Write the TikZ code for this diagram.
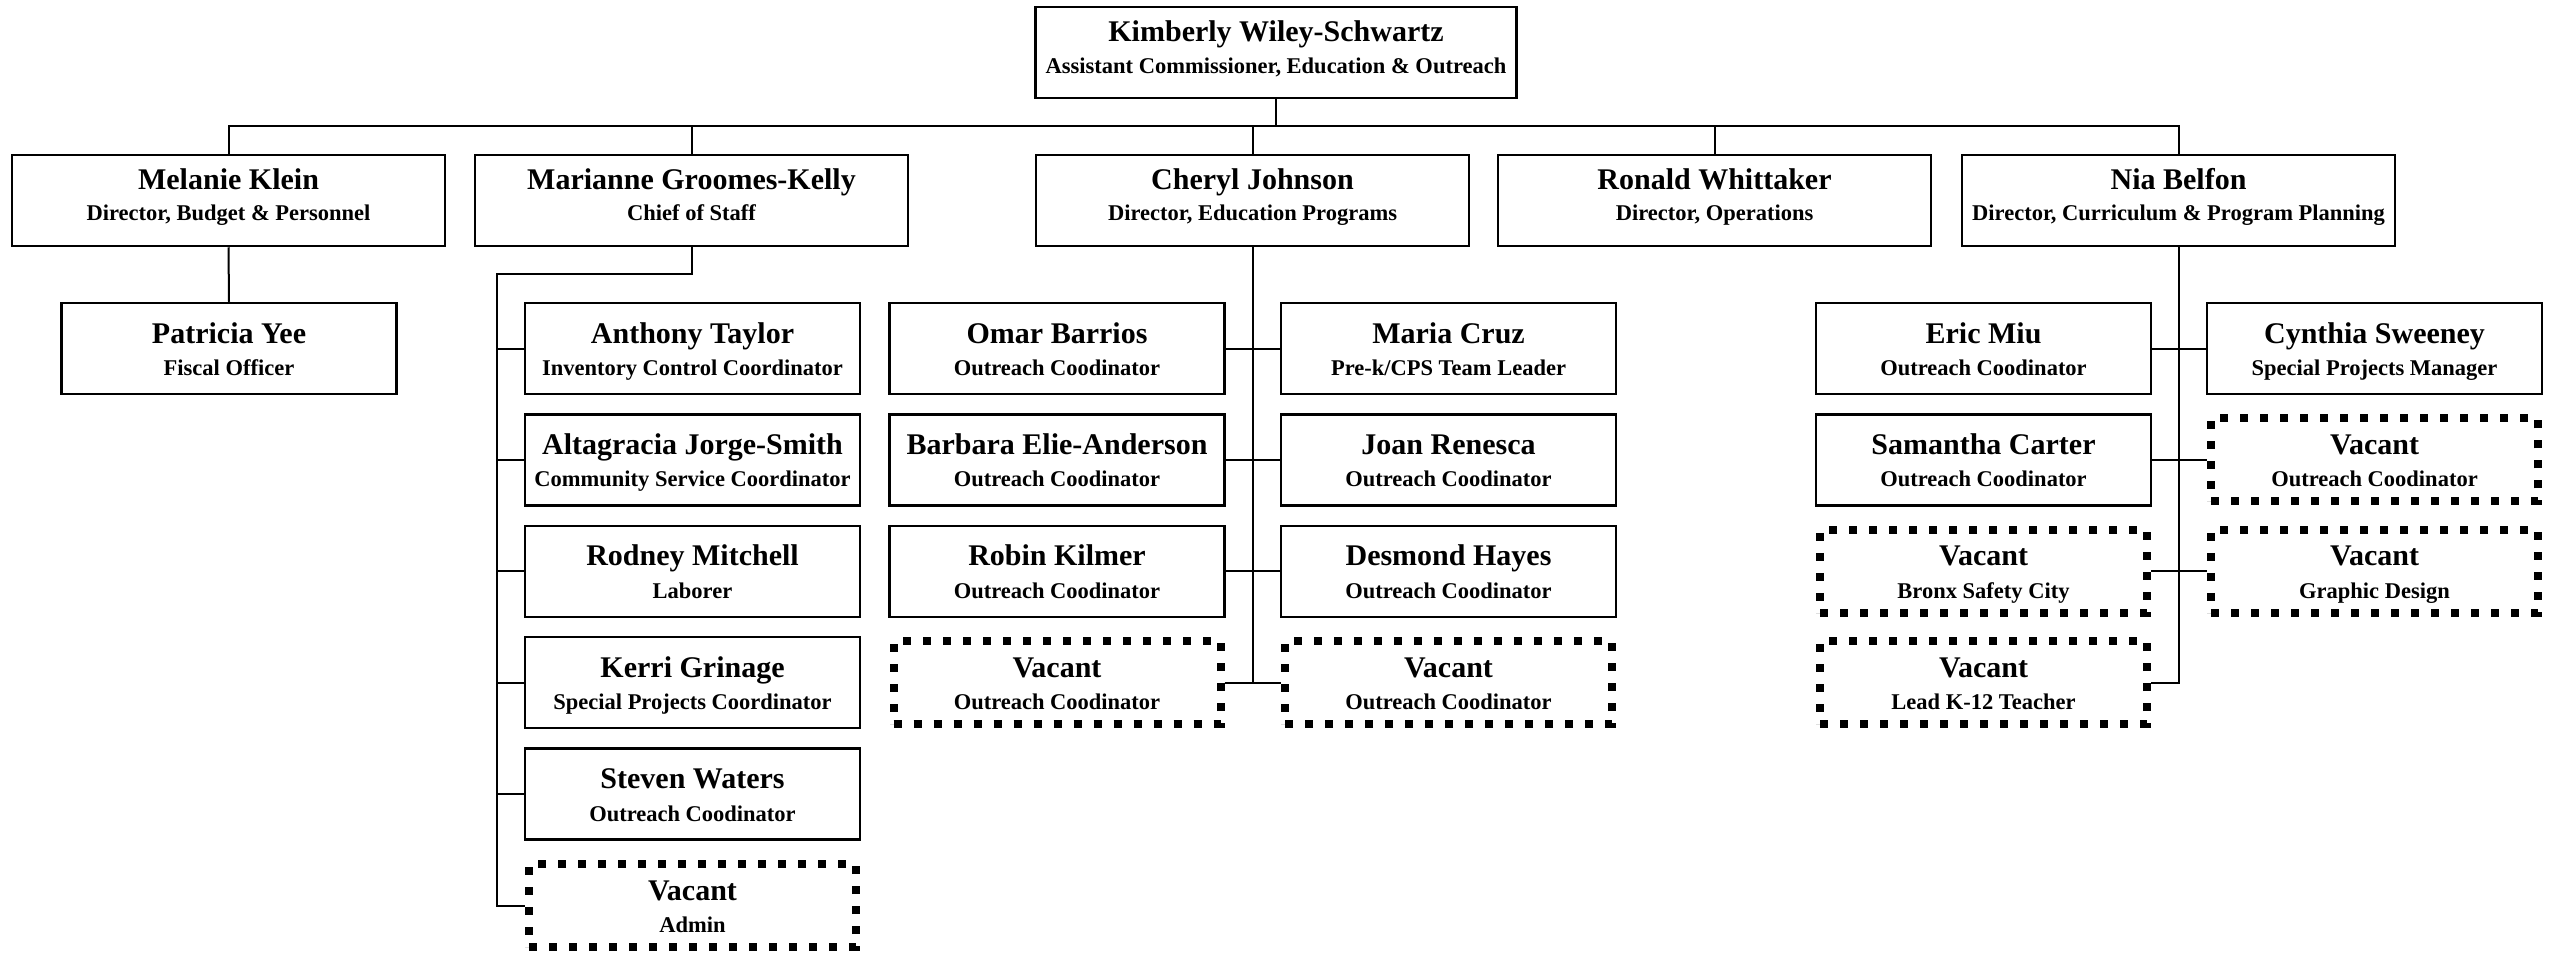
\documentclass[tikz,border=0pt]{standalone}
\usepackage{fontspec}
\setmainfont{Liberation Serif}
\tikzset{
  conn/.style={line width=2pt},
  pbox/.style={draw, line width=2.5pt, minimum width=335pt, minimum height=91pt, inner sep=0pt},
  dbox/.style={draw, line width=8pt, dash pattern=on 8pt off 12pt, minimum width=327pt, minimum height=83pt, inner sep=0pt},
  lbox/.style={pbox, minimum width=433pt},
  tbox/.style={pbox, minimum width=481pt},
  nametext/.style={anchor=base, inner sep=0pt, font=\bfseries\fontsize{30}{36}\selectfont},
  titletext/.style={anchor=base, inner sep=0pt, font=\bfseries\fontsize{22.5}{27}\selectfont},
}
\newcommand\orgbox[8]{%
  \node[#2] (#1) at (#3,#4) {};
  \node[nametext] (#1n) at ({#3},{#4+(#5)}) {#7};
  \node[titletext] (#1t) at ({#3},{#4+(#6)}) {#8};
}
\begin{document}
\begin{tikzpicture}[x=1pt,y=-1pt]
\useasboundingbox (0,0) rectangle (2553,956);
\fill[white] (0,0) rectangle (2553,956);
% top
\orgbox{kws}{tbox}{1276}{52.5}{-11.5}{20.5}{Kimberly Wiley-Schwartz}{Assistant Commissioner, Education \& Outreach}
% level 1
\orgbox{mk}{lbox}{228.5}{200.5}{-11.5}{19.5}{Melanie Klein}{Director, Budget \& Personnel}
\orgbox{mg}{lbox}{691.5}{200.5}{-11.5}{19.5}{Marianne Groomes-Kelly}{Chief of Staff}
\orgbox{cj}{lbox}{1252.5}{200.5}{-11.5}{19.5}{Cheryl Johnson}{Director, Education Programs}
\orgbox{rw}{lbox}{1714.5}{200.5}{-11.5}{19.5}{Ronald Whittaker}{Director, Operations}
\orgbox{nb}{lbox}{2178.5}{200.5}{-11.5}{19.5}{Nia Belfon}{Director, Curriculum \& Program Planning}
% Melanie
\orgbox{py}{pbox}{229}{348.5}{-5.5}{27}{Patricia Yee}{Fiscal Officer}
% Marianne
\orgbox{at}{pbox}{692.5}{348.5}{-5.5}{27}{Anthony Taylor}{Inventory Control Coordinator}
\orgbox{ajs}{pbox}{692.5}{459.9}{-5.5}{27}{Altagracia Jorge-Smith}{Community Service Coordinator}
\orgbox{rm}{pbox}{692.5}{571.3}{-5.5}{27}{Rodney Mitchell}{Laborer}
\orgbox{kg}{pbox}{692.5}{682.7}{-5.5}{27}{Kerri Grinage}{Special Projects Coordinator}
\orgbox{sw}{pbox}{692.5}{794.1}{-5.5}{27}{Steven Waters}{Outreach Coodinator}
\orgbox{va}{dbox}{692.5}{905.5}{-5.5}{27}{Vacant}{Admin}
% Cheryl
\orgbox{ob}{pbox}{1057}{348.5}{-5.5}{27}{Omar Barrios}{Outreach Coodinator}
\orgbox{mc}{pbox}{1448.5}{348.5}{-5.5}{27}{Maria Cruz}{Pre-k/CPS Team Leader}
\orgbox{bea}{pbox}{1057}{459.9}{-5.5}{27}{Barbara Elie-Anderson}{Outreach Coodinator}
\orgbox{jr}{pbox}{1448.5}{459.9}{-5.5}{27}{Joan Renesca}{Outreach Coodinator}
\orgbox{rk}{pbox}{1057}{571.3}{-5.5}{27}{Robin Kilmer}{Outreach Coodinator}
\orgbox{dh}{pbox}{1448.5}{571.3}{-5.5}{27}{Desmond Hayes}{Outreach Coodinator}
\orgbox{cvl}{dbox}{1057}{682.7}{-5.5}{27}{Vacant}{Outreach Coodinator}
\orgbox{cvr}{dbox}{1448.5}{682.7}{-5.5}{27}{Vacant}{Outreach Coodinator}
% Nia
\orgbox{em}{pbox}{1983.5}{348.5}{-5.5}{27}{Eric Miu}{Outreach Coodinator}
\orgbox{cs}{pbox}{2374.5}{348.5}{-5.5}{27}{Cynthia Sweeney}{Special Projects Manager}
\orgbox{sc}{pbox}{1983.5}{459.9}{-5.5}{27}{Samantha Carter}{Outreach Coodinator}
\orgbox{nva}{dbox}{2374.5}{459.9}{-5.5}{27}{Vacant}{Outreach Coodinator}
\orgbox{nvb}{dbox}{1983.5}{571.3}{-5.5}{27}{Vacant}{Bronx Safety City}
\orgbox{nvc}{dbox}{2374.5}{571.3}{-5.5}{27}{Vacant}{Graphic Design}
\orgbox{nvd}{dbox}{1983.5}{682.7}{-5.5}{27}{Vacant}{Lead K-12 Teacher}
% connectors
\coordinate (bus) at (1276,126);
\draw[conn] (kws.south) -- (bus);
\draw[conn] (mk.north) -- (mk.north |- bus) -- (nb.north |- bus) -- (nb.north);
\foreach \n in {mg,cj,rw} \draw[conn] (\n.north) -- (\n.north |- bus);
\draw[conn] (mk.south) -- (py.north);
\coordinate (mgelbow) at (497,274);
\draw[conn] (mg.south) |- (mgelbow) -- (mgelbow |- va.west) -- (va.west);
\foreach \n in {at,ajs,rm,kg,sw} \draw[conn] (mgelbow |- \n.west) -- (\n.west);
\draw[conn] (cj.south) -- (cj.south |- cvl.east);
\draw[conn] (ob.east) -- (mc.west);
\draw[conn] (bea.east) -- (jr.west);
\draw[conn] (rk.east) -- (dh.west);
\draw[conn] (cvl.east) -- (cvr.west);
\draw[conn] (nb.south) -- (nb.south |- nvd.east) -- (nvd.east);
\draw[conn] (em.east) -- (cs.west);
\draw[conn] (sc.east) -- (nva.west);
\draw[conn] (nvb.east) -- (nvc.west);
\end{tikzpicture}
\end{document}
